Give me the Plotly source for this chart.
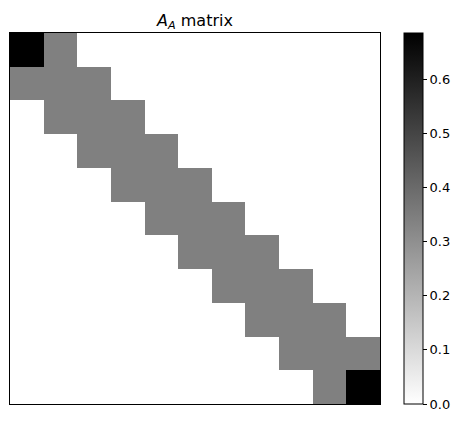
import plotly.graph_objects as go

n = 11
corner_value = 0.685
band_value = 0.3425

rows = list(range(n))
cols = list(range(n))

# tridiagonal matrix, heavier at the two corners
z = []
for i in rows:
    row = []
    for j in cols:
        if abs(i - j) > 1:
            row.append(0.0)
        elif i == j and i in (0, n - 1):
            row.append(corner_value)
        else:
            row.append(band_value)
    z.append(row)

colorbar_ticks = [0.0, 0.1, 0.2, 0.3, 0.4, 0.5, 0.6]

fig = go.Figure(
    go.Heatmap(
        z=z,
        x=cols,
        y=rows,
        zmin=0,
        zmax=corner_value,
        colorscale=[[0, "rgb(255,255,255)"], [1, "rgb(0,0,0)"]],
        hoverinfo="skip",
        colorbar=dict(
            x=(404 - 10) / 370,
            xanchor="left",
            xpad=0,
            y=0.5,
            len=1,
            ypad=0,
            thickness=19,
            outlinewidth=1,
            outlinecolor="black",
            tickvals=colorbar_ticks,
            ticktext=[f"{t:.1f}" for t in colorbar_ticks],
            ticks="outside",
            ticklen=4,
            tickcolor="black",
            tickfont=dict(size=13, color="black"),
        ),
    )
)

fig.update_layout(
    width=464,
    height=422,
    margin=dict(l=10, r=84, t=33, b=18, autoexpand=False),
    paper_bgcolor="white",
    plot_bgcolor="white",
    font=dict(family="DejaVu Sans, sans-serif", color="black"),
    title=dict(
        text="<i>A</i><sub><i>A</i></sub> matrix",
        x=195 / 464,
        xanchor="center",
        y=1 - 20 / 422,
        yanchor="middle",
        font=dict(size=16),
    ),
)
fig.update_xaxes(
    range=[-0.5, n - 0.5],
    showticklabels=False,
    ticks="",
    showgrid=False,
    zeroline=False,
    showline=True,
    mirror=True,
    linecolor="black",
    linewidth=1,
)
fig.update_yaxes(
    range=[n - 0.5, -0.5],
    showticklabels=False,
    ticks="",
    showgrid=False,
    zeroline=False,
    showline=True,
    mirror=True,
    linecolor="black",
    linewidth=1,
)

fig.write_html(
    "out.html",
    config={"displayModeBar": False},
    post_script="document.body.style.margin = '0';",
)
